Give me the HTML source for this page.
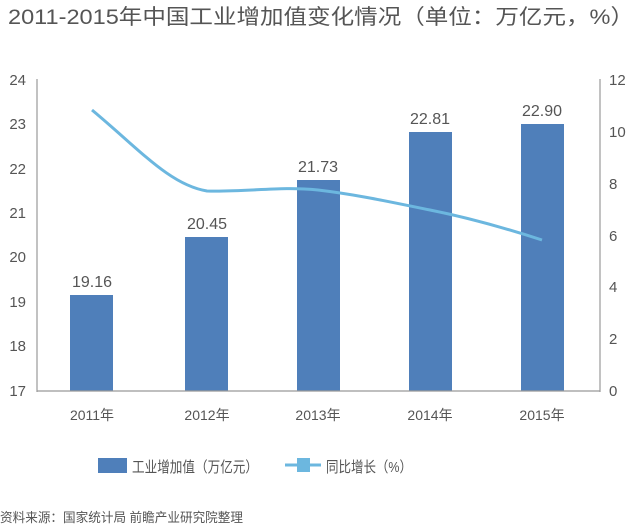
<!DOCTYPE html>
<html><head><meta charset="utf-8"><style>
body{margin:0;background:#fff;width:640px;height:526px;overflow:hidden}
text{font-family:"Liberation Sans","Noto Sans CJK SC",sans-serif;fill:#555}
</style></head><body>
<svg width="640" height="526" viewBox="0 0 640 526">
<text x="8" y="24" font-size="21" fill="#666" textLength="626" lengthAdjust="spacingAndGlyphs">2011-2015年中国工业增加值变化情况（单位：万亿元，%）</text>
<g font-size="15" text-anchor="end">
<text x="26" y="85">24</text><text x="26" y="129">23</text><text x="26" y="174">22</text><text x="26" y="218">21</text><text x="26" y="262">20</text><text x="26" y="307">19</text><text x="26" y="351">18</text><text x="26" y="396">17</text>
</g>
<g font-size="15">
<text x="609" y="85">12</text><text x="609" y="137">10</text><text x="609" y="189">8</text><text x="609" y="241">6</text><text x="609" y="292">4</text><text x="609" y="344">2</text><text x="609" y="396">0</text>
</g>
<line x1="37" y1="79" x2="37" y2="392" stroke="#999" stroke-width="1.2"/>
<line x1="600" y1="79" x2="600" y2="392" stroke="#999" stroke-width="1.2"/>
<g fill="#4f7fba">
<rect x="70" y="295" width="43" height="96"/>
<rect x="185" y="237" width="43" height="154"/>
<rect x="297" y="180" width="43" height="211"/>
<rect x="409" y="132" width="43" height="259"/>
<rect x="521" y="124" width="43" height="267"/>
</g>
<line x1="37" y1="391" x2="600" y2="391" stroke="#999" stroke-width="1.2"/>
<g font-size="16" text-anchor="middle" fill="#444">
<text x="92" y="287">19.16</text><text x="207" y="229">20.45</text><text x="318" y="172">21.73</text><text x="430" y="124">22.81</text><text x="542" y="116">22.90</text>
</g>
<path d="M92,110 C140,150 170,185 207,191 C250,192 280,186 318,190 C360,195 395,203 430,210 C470,218 505,228 542,240" fill="none" stroke="#6cb7df" stroke-width="3"/>
<g font-size="14" text-anchor="middle">
<text x="92" y="420">2011年</text><text x="207" y="420">2012年</text><text x="318" y="420">2013年</text><text x="430" y="420">2014年</text><text x="542" y="420">2015年</text>
</g>
<rect x="98" y="458" width="29" height="15" fill="#4f7fba"/>
<text x="132" y="472" font-size="15" textLength="126" lengthAdjust="spacingAndGlyphs">工业增加值（万亿元）</text>
<line x1="285" y1="465" x2="321" y2="465" stroke="#6cb7df" stroke-width="3"/>
<rect x="297" y="458" width="13" height="14" fill="#6cb7df"/>
<text x="326" y="472" font-size="15" textLength="86" lengthAdjust="spacingAndGlyphs">同比增长（%）</text>
<text x="0" y="522" font-size="13" textLength="243" lengthAdjust="spacingAndGlyphs">资料来源：国家统计局 前瞻产业研究院整理</text>
</svg>
</body></html>
